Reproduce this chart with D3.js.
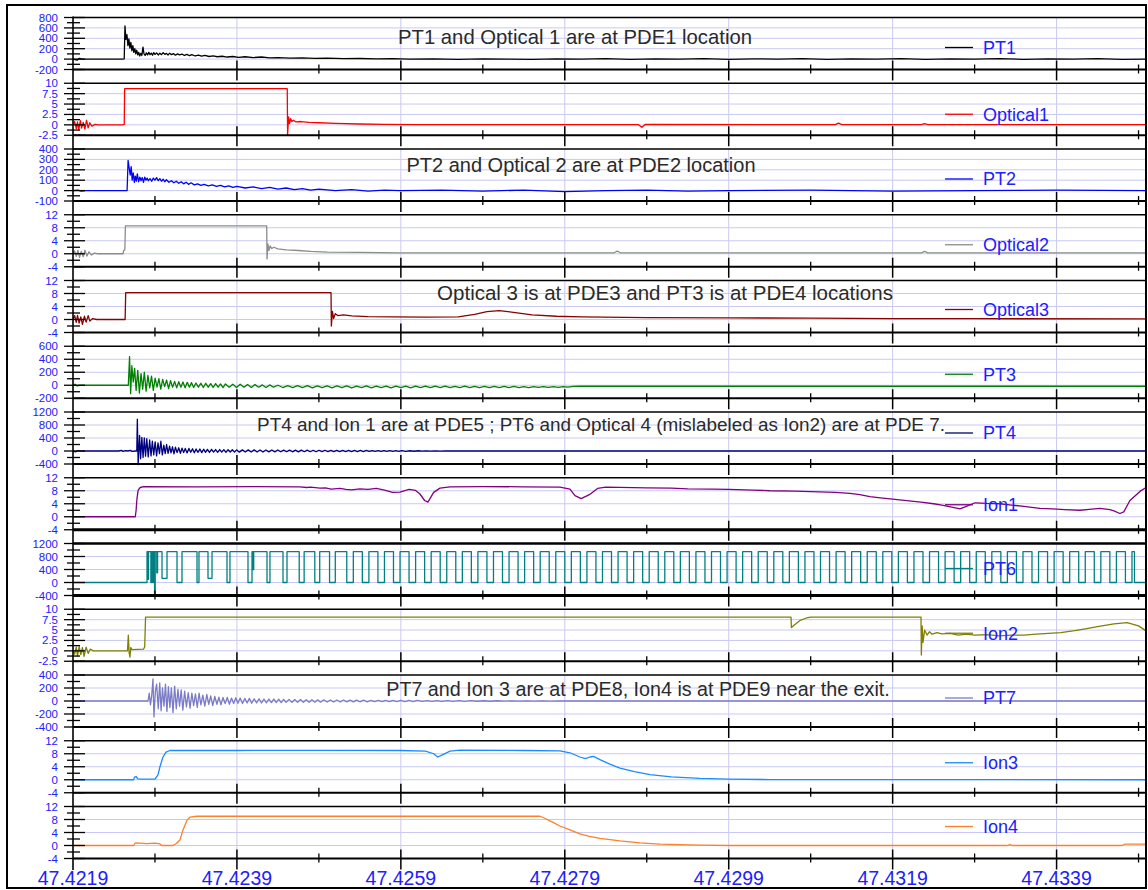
<!DOCTYPE html>
<html>
<head>
<meta charset="utf-8">
<script src="https://cdn.jsdelivr.net/npm/d3@7"></script>
<style>
  body { margin: 0; background: #fff; }
  svg { display: block; }
  text { font-family: Arial, "Liberation Sans", sans-serif; }
</style>
</head>
<body>
<svg id="chart" width="1148" height="890"></svg>
<script>
// ---- time axis (microseconds after 47.4219 s) ----
const majorTickTimes = [0, 2000, 4000, 6000, 8000, 10000, 12000];
const majorTickLabels = ["47.4219", "47.4239", "47.4259", "47.4279", "47.4299", "47.4319", "47.4339"];
const minorTickTimes = [1000, 3000, 5000, 7000, 9000, 11000, 13000];
const timeExtent = [0, 13091];

// ---- channels ----
const channelNames = ["PT1", "Optical1", "PT2", "Optical2", "Optical3", "PT3", "PT4", "Ion1", "PT6", "Ion2", "PT7", "Ion3", "Ion4"];
const channelColors = ["#000000", "#ff0000", "#0000ff", "#8c8c8c", "#8b0000", "#008000", "#000080", "#800080", "#008080", "#808000", "#7b7bc8", "#1a8cff", "#ff7f2a"];
const yTickValues = [
  [-200, 0, 200, 400, 600, 800],
  [-2.5, 0, 2.5, 5, 7.5, 10],
  [-100, 0, 100, 200, 300, 400],
  [-4, 0, 4, 8, 12],
  [-4, 0, 4, 8, 12],
  [-200, 0, 200, 400, 600],
  [-400, 0, 400, 800, 1200],
  [-4, 0, 4, 8, 12],
  [-400, 0, 400, 800, 1200],
  [-2.5, 0, 2.5, 5, 7.5, 10],
  [-400, -200, 0, 200, 400],
  [-4, 0, 4, 8, 12],
  [-4, 0, 4, 8, 12]
];

// ---- recorded traces: [time (us), value] ----
const pt1 = [[0,0],[50,-20],[80,15],[110,0],[600,0],[625,5],[634,640],[646,380],[658,470],[670,260],[682,390],[694,210],[706,320],[718,160],[730,260],[742,130],[754,200],[766,100],[778,170],[790,80],[802,130],[814,60],[826,110],[840,70],[854,230],[866,100],[880,70],[895,120],[910,80],[925,130],[940,85],[955,115],[970,75],[985,125],[1000,90],[1020,120],[1040,80],[1060,115],[1080,85],[1100,125],[1120,90],[1140,110],[1160,80],[1180,115],[1200,85],[1225,105],[1250,75],[1275,100],[1300,80],[1330,95],[1360,70],[1390,90],[1420,65],[1450,85],[1490,60],[1530,75],[1570,55],[1610,70],[1660,50],[1710,60],[1760,45],[1820,55],[1880,40],[1950,50],[2020,35],[2100,45],[2200,30],[2300,40],[2400,25],[2500,30],[2650,20],[2800,25],[2950,15],[3100,20],[3300,10],[3500,12],[3700,5],[3900,8],[4100,0],[4400,5],[4700,-5],[5000,5],[5300,0],[5600,-5],[5900,5],[6200,0],[6500,10],[6800,-5],[7100,5],[7400,0],[7700,8],[8000,-5],[8300,5],[8600,0],[8900,10],[9200,-5],[9500,5],[9800,0],[10100,8],[10400,-5],[10700,5],[11000,0],[11300,10],[11600,-5],[11900,5],[12200,0],[12500,8],[12800,-5],[13091,0]];

const optical1 = [[0,0],[20,0.8],[40,-0.9],[55,0.7],[70,-1.2],[90,1.0],[105,-0.8],[125,0.6],[145,-1.0],[165,1.1],[185,-0.7],[205,0.5],[230,-0.3],[270,0.1],[300,0],[600,0],[625,0.1],[630,8.7],[2614,8.7],[2618,-2.5],[2630,1.9],[2642,0.3],[2655,1.5],[2670,0.8],[2690,1.1],[2720,0.7],[2780,0.8],[2880,0.6],[3000,0.5],[3200,0.35],[3500,0.2],[3800,0.1],[4200,0.05],[6900,0.05],[6940,-0.6],[6980,0.1],[9300,0.05],[9340,0.4],[9380,0.05],[10350,0.05],[10390,0.3],[10430,0.05],[13091,0.05]];

const pt2 = [[0,0],[60,5],[100,-5],[160,0],[640,0],[660,0],[672,290],[685,220],[698,150],[710,230],[722,100],[735,170],[748,80],[760,140],[772,90],[785,160],[800,85],[815,130],[830,95],[845,125],[860,80],[875,130],[890,100],[905,120],[920,95],[940,115],[960,90],[980,120],[1000,100],[1020,125],[1040,95],[1060,115],[1080,90],[1100,110],[1120,85],[1140,105],[1170,80],[1200,95],[1230,75],[1260,90],[1290,70],[1320,85],[1350,65],[1380,80],[1410,60],[1440,75],[1480,55],[1520,65],[1560,50],[1600,60],[1650,45],[1700,55],[1750,40],[1800,50],[1850,35],[1900,45],[1950,30],[2000,40],[2100,25],[2200,35],[2300,20],[2400,30],[2500,15],[2600,25],[2700,10],[2800,20],[2900,5],[3000,15],[3200,0],[3400,10],[3600,-5],[3800,5],[4000,0],[4500,5],[5000,-5],[5500,5],[6000,-10],[6500,0],[7000,5],[7500,-5],[8000,0],[9000,5],[10000,-5],[11000,0],[12000,5],[13091,0]];

const optical2 = [[0,0],[20,0.9],[40,-0.8],[60,1.0],[80,-1.1],[100,0.7],[125,-0.9],[145,1.1],[170,-0.7],[195,0.6],[225,-0.4],[260,0.2],[300,0],[610,0],[618,1.0],[632,1.2],[640,8.6],[2363,8.6],[2367,-1.6],[2378,3.0],[2390,1.0],[2405,2.4],[2425,1.6],[2450,2.0],[2500,1.5],[2600,1.2],[2750,1.0],[2900,0.7],[3100,0.5],[3500,0.4],[4000,0.3],[6600,0.3],[6640,0.8],[6680,0.3],[10350,0.3],[10390,0.7],[10430,0.3],[13091,0.3]];

const optical3 = [[0,0],[20,1.2],[40,-0.9],[55,1.3],[75,-1.1],[95,0.8],[115,-1.5],[140,1.0],[160,-0.8],[185,1.2],[205,-0.5],[240,0.3],[290,0],[636,0],[643,8.3],[3148,8.3],[3152,-2.0],[3165,2.5],[3180,0.3],[3200,1.8],[3230,1.2],[3300,1.4],[3400,1.1],[3600,0.9],[3900,0.8],[4300,0.7],[4700,0.8],[4900,1.6],[5050,2.4],[5200,2.7],[5350,2.3],[5600,1.4],[5900,1.0],[6200,0.8],[7000,0.6],[8000,0.5],[9000,0.4],[10000,0.3],[11000,0.25],[13091,0.2]];

const pt3 = [[0,0],[25,15],[50,-10],[80,0],[660,0],[675,0],[690,440],[703,-130],[718,300],[735,50],[752,260],[770,-80],[790,230],[810,-120],[830,180],[850,-60],[870,200],[892,-90],[914,150],[936,-40],[958,140],[980,-80],[1002,110],[1025,-30],[1048,100],[1071,-60],[1094,90],[1118,-20],[1142,80],[1166,-50],[1190,70],[1215,-30],[1240,60],[1265,-40],[1290,55],[1316,-30],[1342,50],[1368,-40],[1394,45],[1420,-30],[1446,40],[1472,-35],[1500,35],[1530,-30],[1560,30],[1590,-35],[1620,30],[1650,-30],[1680,25],[1710,-35],[1740,25],[1770,-30],[1800,20],[1830,-35],[1860,20],[1905,-30],[1950,15],[1995,-35],[2040,15],[2085,-30],[2130,10],[2175,-35],[2220,10],[2265,-30],[2310,5],[2355,-35],[2400,5],[2445,-30],[2500,0],[2560,-35],[2620,-5],[2680,-35],[2740,-5],[2800,-35],[2860,-5],[2920,-40],[2980,-10],[3040,-35],[3100,-10],[3160,-40],[3220,-10],[3280,-35],[3340,-10],[3400,-40],[3460,-15],[3520,-35],[3580,-10],[3640,-40],[3700,-15],[3760,-35],[3820,-15],[3880,-40],[3940,-15],[4000,-35],[4060,-15],[4120,-40],[4180,-15],[4240,-35],[4300,-15],[4360,-38],[4420,-15],[4480,-35],[4540,-15],[4600,-38],[4660,-18],[4720,-35],[4780,-15],[4840,-38],[4900,-18],[4960,-35],[5020,-18],[5080,-38],[5140,-18],[5200,-35],[5260,-18],[5320,-36],[5380,-18],[5440,-35],[5500,-20],[5560,-35],[5620,-20],[5680,-34],[5740,-20],[5800,-34],[5860,-22],[5920,-32],[5980,-22],[6040,-30],[6100,-18],[6185,-15],[13091,-15]];

const pt4 = [[0,0],[35,-25],[60,15],[90,0],[560,0],[590,20],[610,-10],[640,15],[670,0],[700,20],[720,-10],[760,0],[778,0],[785,980],[795,-420],[805,100],[812,480],[825,-240],[840,420],[855,-200],[870,400],[885,-160],[900,380],[918,-180],[935,340],[952,-150],[968,300],[985,-120],[1002,280],[1020,-150],[1037,250],[1055,-80],[1072,300],[1090,-120],[1108,180],[1125,-80],[1142,200],[1160,-70],[1178,150],[1196,-60],[1214,130],[1232,-90],[1250,120],[1270,-50],[1290,100],[1310,-70],[1330,90],[1350,-50],[1370,80],[1392,-60],[1414,80],[1436,-40],[1458,70],[1480,-55],[1502,60],[1525,-40],[1548,60],[1571,-50],[1594,55],[1617,-40],[1640,50],[1665,-45],[1690,50],[1715,-35],[1740,45],[1765,-40],[1790,45],[1815,-35],[1840,40],[1866,-40],[1892,40],[1918,-30],[1944,40],[1970,-35],[1996,35],[2030,-35],[2066,35],[2102,-30],[2138,35],[2174,-30],[2210,35],[2246,-30],[2282,30],[2318,-30],[2354,30],[2390,-28],[2426,30],[2462,-28],[2498,30],[2534,-25],[2570,28],[2606,-25],[2642,28],[2678,-25],[2714,25],[2750,-25],[2786,25],[2822,-22],[2858,25],[2894,-22],[2930,22],[2966,-22],[3002,22],[3038,-20],[3074,22],[3110,-20],[3146,20],[3182,-20],[3218,20],[3254,-18],[3290,20],[3326,-18],[3362,18],[3398,-18],[3434,18],[3470,-16],[3506,16],[3542,-16],[3578,16],[3614,-15],[3650,15],[3686,-14],[3722,14],[3758,-13],[3794,13],[3830,-12],[3866,12],[3902,-12],[3938,12],[3974,-10],[4010,10],[4060,-10],[4110,8],[4160,-8],[4210,8],[4260,-6],[4310,6],[4360,-5],[4420,5],[4480,-4],[4550,0],[13091,0]];

const ion1 = [[0,0],[760,0],[770,2],[780,5.5],[795,8.2],[820,9.0],[860,9.25],[1500,9.2],[2200,9.25],[2769,9.2],[2850,9.0],[2900,9.1],[3013,8.8],[3080,8.9],[3150,8.5],[3257,8.7],[3330,8.4],[3400,8.3],[3500,8.6],[3600,8.4],[3700,8.7],[3800,8.2],[3900,7.5],[3989,7.6],[4100,8.4],[4180,8.1],[4233,7.0],[4290,5.0],[4330,4.5],[4400,7.5],[4477,8.8],[4600,9.2],[5000,9.3],[5500,9.2],[5941,9.1],[6063,8.5],[6124,6.5],[6200,5.6],[6300,6.8],[6400,8.7],[6500,9.1],[7000,8.9],[7300,8.8],[7500,8.6],[7800,8.5],[8000,8.4],[8300,8.2],[8500,8.0],[8800,7.9],[9000,7.7],[9300,7.5],[9479,7.2],[9600,6.8],[9723,6.2],[9850,5.8],[10000,5.4],[10200,4.9],[10346,4.5],[10500,4.0],[10600,3.6],[10750,2.8],[10821,2.4],[10900,3.2],[11004,4.3],[11150,4.1],[11309,4.0],[11450,3.6],[11600,3.2],[11797,2.6],[11950,2.4],[12100,2.2],[12285,2.0],[12400,2.3],[12529,2.6],[12650,2.2],[12700,1.8],[12773,1.0],[12820,1.5],[12895,5.0],[13017,7.8],[13091,9.0]];

// PT6 is a switching signal: each point holds its level until the next one
const pt6 = [[0,0],[903,950],[915,100],[922,950],[950,0],[958,950],[972,0],[980,950],[995,-420],[1003,950],[1022,300],[1032,950],[1086,130],[1147,950],[1269,0],[1330,950],[1513,0],[1537,950],[1647,130],[1696,950],[1879,0],[1915,950],[2135,0],[2184,950],[2196,400],[2205,950],[2367,0],[2403,950],[2562,0],[2611,950],[2760,0],[2820,950],[2950,0],[3010,950],[3130,0],[3200,950],[3340,0],[3420,950],[3530,0],[3610,950],[3720,0],[3800,950],[3910,0],[3990,950],[4100,0],[4180,950],[4290,0],[4370,950],[4480,0],[4560,950],[4670,0],[4750,950],[4860,0],[4940,950],[5050,0],[5130,950],[5240,0],[5320,950],[5430,0],[5510,950],[5620,0],[5700,950],[5810,0],[5890,950],[6000,0],[6080,950],[6190,0],[6270,950],[6380,0],[6460,950],[6570,0],[6650,950],[6760,0],[6840,950],[6950,0],[7030,950],[7140,0],[7220,950],[7330,0],[7410,950],[7520,0],[7600,950],[7710,0],[7790,950],[7900,0],[7980,950],[8090,0],[8170,950],[8280,0],[8360,950],[8470,0],[8550,950],[8660,0],[8740,950],[8850,0],[8930,950],[9040,0],[9120,950],[9230,0],[9310,950],[9420,0],[9500,950],[9610,0],[9690,950],[9800,0],[9880,950],[9990,0],[10070,950],[10180,0],[10260,950],[10370,0],[10450,950],[10560,0],[10640,950],[10750,0],[10830,950],[10940,0],[11020,950],[11130,0],[11210,950],[11320,0],[11400,950],[11510,0],[11590,950],[11700,0],[11780,950],[11890,0],[11970,950],[12080,0],[12160,950],[12270,0],[12350,950],[12460,0],[12540,950],[12650,0],[12730,950],[12840,0],[12920,950],[12950,0],[13091,30]];

const ion2 = [[0,0],[20,-0.8],[40,0.9],[55,-1.2],[75,1.0],[95,-0.9],[115,0.8],[135,-1.3],[160,0.9],[185,-0.6],[210,0.4],[250,0],[650,0],[665,0],[675,3.8],[685,-0.5],[695,-1.5],[705,0.8],[720,0.3],[860,0.4],[875,1.0],[885,8.1],[8760,8.1],[8765,5.6],[8800,6.2],[8870,7.3],[8950,7.9],[9000,8.1],[10346,8.1],[10350,-1.0],[10360,6.0],[10370,2.0],[10390,5.0],[10420,3.8],[10450,4.6],[10480,4.0],[10540,4.4],[10600,4.1],[10700,4.2],[10800,3.8],[10900,4.0],[11000,3.8],[11150,3.9],[11300,3.6],[11450,3.8],[11600,3.8],[11750,4.0],[11900,4.2],[12050,4.4],[12200,4.8],[12350,5.3],[12500,5.8],[12700,6.5],[12860,6.8],[13000,6.0],[13091,4.8]];

const pt7 = [[0,0],[900,0],[915,0],[930,120],[945,-60],[960,80],[976,340],[988,-245],[1005,150],[1020,260],[1040,-120],[1058,280],[1075,-150],[1092,200],[1110,-80],[1128,260],[1146,-160],[1164,220],[1182,-100],[1200,200],[1220,-180],[1240,230],[1260,-120],[1280,180],[1300,-80],[1320,170],[1340,-140],[1362,150],[1384,-90],[1406,130],[1428,-110],[1450,120],[1472,-70],[1494,110],[1516,-100],[1538,120],[1560,-60],[1584,90],[1608,-80],[1632,100],[1656,-50],[1680,80],[1705,-70],[1730,70],[1755,-50],[1780,60],[1805,-60],[1830,55],[1856,-40],[1882,55],[1908,-50],[1934,45],[1960,-40],[1986,50],[2012,-35],[2040,45],[2068,-40],[2096,40],[2124,-30],[2152,40],[2180,-35],[2210,35],[2240,-30],[2270,35],[2300,-30],[2330,30],[2360,-28],[2390,30],[2420,-25],[2450,30],[2480,-25],[2510,28],[2540,-25],[2570,25],[2600,-22],[2635,25],[2670,-22],[2705,22],[2740,-20],[2775,22],[2810,-20],[2845,20],[2880,-20],[2915,20],[2950,-18],[2985,18],[3020,-18],[3060,18],[3100,-16],[3140,16],[3180,-16],[3220,15],[3260,-15],[3300,15],[3340,-14],[3380,14],[3420,-13],[3460,13],[3500,-12],[3545,12],[3590,-12],[3635,11],[3680,-11],[3725,10],[3770,-10],[3815,10],[3860,-10],[3905,9],[3950,-9],[4000,9],[4050,-8],[4100,8],[4150,-8],[4200,8],[4260,-7],[4320,7],[4380,-7],[4440,6],[4500,-6],[4570,6],[4640,-5],[4710,5],[4780,-5],[4850,5],[4930,-4],[5010,4],[5090,-4],[5170,4],[5260,-3],[5350,3],[5440,-3],[5530,3],[5620,-3],[5720,3],[5820,-2],[5920,2],[6020,0],[13091,0]];

const ion3 = [[0,0],[740,0],[750,0.8],[770,1.0],[790,0.3],[830,0.2],[1000,0.2],[1037,1.5],[1061,4.0],[1098,7.0],[1135,8.5],[1183,9.0],[2000,9.0],[3000,9.05],[4000,9.0],[4300,8.8],[4400,8.0],[4450,7.0],[4500,7.6],[4600,8.8],[4721,9.1],[5500,9.0],[5941,8.9],[6063,8.3],[6185,7.0],[6250,6.5],[6307,7.0],[6350,7.2],[6429,6.2],[6550,4.8],[6673,3.6],[6850,2.5],[7039,1.6],[7300,0.9],[7649,0.4],[8000,0.2],[8500,0.05],[13091,0]];

const ion4 = [[0,0],[740,0],[756,0.7],[781,0.8],[900,0.6],[1000,0.7],[1061,0.5],[1080,0],[1220,0],[1260,0.6],[1305,1.7],[1342,4.8],[1391,7.8],[1427,8.7],[1513,9.0],[5697,9.0],[5760,8.3],[5850,7.2],[5941,6.0],[6063,4.8],[6185,3.6],[6300,2.8],[6429,2.2],[6673,1.4],[6917,0.8],[7161,0.4],[7649,0.1],[8000,0],[11400,0],[11430,0.3],[11460,0],[12800,0],[12830,0.4],[13091,0.4]];

const traces = [pt1, optical1, pt2, optical2, optical3, pt3, pt4, ion1, pt6, ion2, pt7, ion3, ion4];

// ---- notes written on the strips ----
const noteTexts = [
  "PT1 and Optical 1 are at PDE1 location",
  "PT2 and Optical 2 are at PDE2 location",
  "Optical 3 is at PDE3 and PT3 is at PDE4 locations",
  "PT4 and Ion 1 are at PDE5 ; PT6 and Optical 4 (mislabeled as Ion2) are at PDE 7.",
  "PT7 and Ion 3 are at PDE8, Ion4 is at PDE9 near the exit."
];

// ---- layout ----
const plotLeft = 73, plotRight = 1146;
const stripTop0 = 17.5, stripStep = 65.75, stripH = 52;
const legendDy = [30, 31, 30, 30, 29, 28, 21, 27, 25, 24, 23, 22, 20];
const notePos = [[575, 44], [581, 172], [665, 300], [601, 431], [638, 696]];
const noteSizes = [20.3, 20, 20.5, 18.9, 19.7];
const gridColor = "#c9c9f3";
const labelBlue = "#2020ff";

const svg = d3.select("#chart");
svg.append("rect").attr("width", 1148).attr("height", 890).attr("fill", "#fff");

const x = d3.scaleLinear().domain(timeExtent).range([plotLeft, plotRight]);
const defs = svg.append("defs");

channelNames.forEach((name, i) => {
  const top = stripTop0 + i * stripStep;
  const bottom = top + stripH;
  const dom = d3.extent(yTickValues[i]);
  const y = d3.scaleLinear().domain(dom).range([bottom, top]);
  const g = svg.append("g");
  const step = yTickValues[i][1] - yTickValues[i][0];

  // horizontal grid at every labelled value
  g.selectAll(null).data(yTickValues[i].filter(v => v !== dom[0] && v !== dom[1]))
    .join("line")
    .attr("x1", plotLeft).attr("x2", plotRight)
    .attr("y1", d => y(d)).attr("y2", d => y(d))
    .attr("stroke", gridColor).attr("stroke-width", 1);

  // vertical grid at labelled times
  g.selectAll(null).data(majorTickTimes.slice(1))
    .join("line")
    .attr("x1", d => x(d)).attr("x2", d => x(d))
    .attr("y1", top).attr("y2", bottom)
    .attr("stroke", gridColor).attr("stroke-width", 1);

  // trace
  const clipId = "clip" + i;
  defs.append("clipPath").attr("id", clipId)
    .append("rect").attr("x", plotLeft).attr("y", top - 2)
    .attr("width", plotRight - plotLeft).attr("height", stripH + 6);

  const line = d3.line()
    .x(d => x(d[0])).y(d => y(d[1]))
    .curve(name === "PT6" ? d3.curveStepAfter : d3.curveLinear);

  g.append("path")
    .datum(traces[i])
    .attr("clip-path", `url(#${clipId})`)
    .attr("d", line)
    .attr("fill", "none")
    .attr("stroke", channelColors[i])
    .attr("stroke-width", 1.3)
    .attr("stroke-linejoin", "round");

  // strip frame
  const heavy = name === "PT6";
  g.append("line").attr("x1", plotLeft).attr("x2", plotRight)
    .attr("y1", top).attr("y2", top)
    .attr("stroke", "#000").attr("stroke-width", heavy ? 2.6 : 1.6);
  g.append("line").attr("x1", plotLeft).attr("x2", plotRight)
    .attr("y1", bottom).attr("y2", bottom)
    .attr("stroke", "#000").attr("stroke-width", (heavy || name === "Ion1") ? 2.8 : 2);

  // time ticks on the strip's base line
  g.selectAll(null).data(majorTickTimes.slice(1))
    .join("line")
    .attr("x1", d => x(d)).attr("x2", d => x(d))
    .attr("y1", bottom - 9).attr("y2", bottom + 11)
    .attr("stroke", "#000").attr("stroke-width", 1.5);
  g.selectAll(null).data(minorTickTimes)
    .join("line")
    .attr("x1", d => x(d)).attr("x2", d => x(d))
    .attr("y1", bottom - 5).attr("y2", bottom + 4)
    .attr("stroke", "#000").attr("stroke-width", 1.3);

  // value ticks
  const minorVals = d3.range(dom[0], dom[1] + step / 4, step / 2);
  g.selectAll(null).data(minorVals)
    .join("line")
    .attr("x1", d => yTickValues[i].includes(d) ? 64 : 67)
    .attr("x2", d => yTickValues[i].includes(d) ? 85 : 80)
    .attr("y1", d => y(d)).attr("y2", d => y(d))
    .attr("stroke", "#000").attr("stroke-width", 1.3);

  g.selectAll(null).data(yTickValues[i])
    .join("text")
    .attr("x", 58).attr("y", d => y(d))
    .attr("dy", "0.35em")
    .attr("text-anchor", "end")
    .attr("font-size", 11.5)
    .attr("fill", labelBlue)
    .text(d => String(d));

  // legend
  const ly = top + legendDy[i];
  g.append("line").attr("x1", 945).attr("x2", 973)
    .attr("y1", ly).attr("y2", ly)
    .attr("stroke", channelColors[i]).attr("stroke-width", 1.3);
  g.append("text").attr("x", 983).attr("y", ly)
    .attr("dy", "0.36em")
    .attr("font-size", 18)
    .attr("fill", labelBlue)
    .text(name);
});

// notes
svg.selectAll(null).data(noteTexts)
  .join("text")
  .attr("x", (d, k) => notePos[k][0])
  .attr("y", (d, k) => notePos[k][1])
  .attr("text-anchor", "middle")
  .attr("font-size", (d, k) => noteSizes[k])
  .attr("fill", "#2a2a2a")
  .text(d => d);

// value axis line running down the whole stack
svg.append("line").attr("x1", plotLeft).attr("x2", plotLeft)
  .attr("y1", stripTop0 - 1).attr("y2", 870)
  .attr("stroke", "#000").attr("stroke-width", 1.6);

// time labels along the bottom
svg.selectAll(null).data(majorTickTimes)
  .join("text")
  .attr("x", d => x(d)).attr("y", 885)
  .attr("text-anchor", "middle")
  .attr("font-size", 19.5)
  .attr("fill", labelBlue)
  .text((d, k) => majorTickLabels[k]);

// outer frame
svg.append("rect").attr("x", 7).attr("y", 5).attr("width", 1139).attr("height", 883)
  .attr("fill", "none").attr("stroke", "#000").attr("stroke-width", 2);
</script>
</body>
</html>
